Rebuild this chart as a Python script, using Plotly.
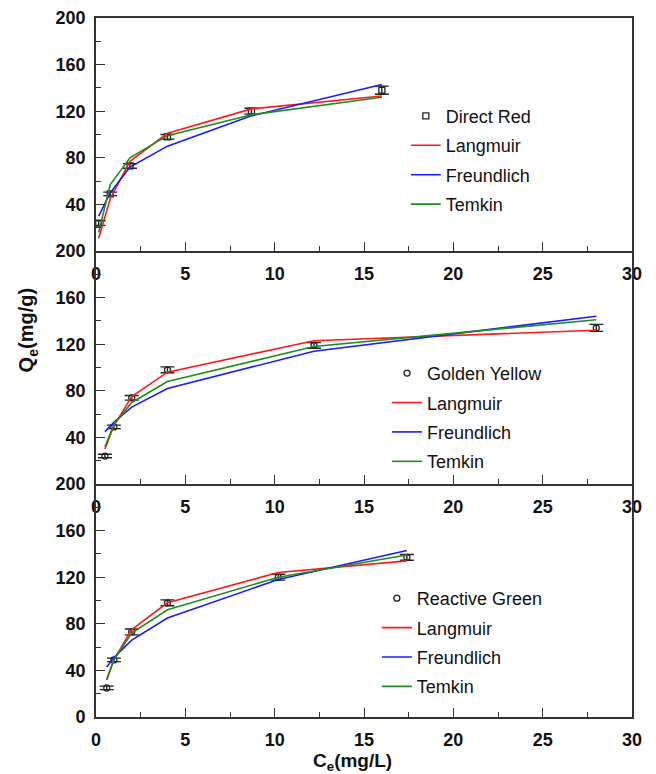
import plotly.graph_objects as go

# ---------------- data ----------------
dr_ce = [0.15, 0.8, 1.9, 4.0, 8.7, 16.0]
dr_qe = [24, 49, 73, 98, 120, 138]
dr_err = [2, 1.5, 2, 2, 2.5, 3.5]
dr_lang = [11, 45, 77, 101, 122, 133]
dr_freu = [30, 50, 72, 90, 116, 143]
dr_temk = [16, 57, 80, 99, 117, 132]

gy_ce = [0.5, 1.0, 2.0, 4.0, 12.2, 28.0]
gy_qe = [24, 49, 74, 98, 119, 134]
gy_err = [1.5, 1.5, 2, 2.5, 2.5, 3]
gy_lang = [30, 50, 75, 96, 123, 132]
gy_freu = [45, 53, 66, 82, 114, 144]
gy_temk = [32, 51, 70, 88, 118, 141]

rg_ce = [0.6, 1.0, 2.0, 4.0, 10.2, 17.4]
rg_qe = [25, 49, 73, 98, 120, 137]
rg_err = [1.5, 1.5, 2.5, 2.5, 2.5, 2.5]
rg_lang = [32, 49, 75, 98, 124, 134]
rg_freu = [43, 51, 66, 85, 118, 143]
rg_temk = [32, 49, 72, 92, 120, 139]

panels = [
    ("Direct Red", "square-open", dr_ce, dr_qe, dr_err, dr_lang, dr_freu, dr_temk),
    ("Golden Yellow", "circle-open", gy_ce, gy_qe, gy_err, gy_lang, gy_freu, gy_temk),
    ("Reactive Green", "circle-open", rg_ce, rg_qe, rg_err, rg_lang, rg_freu, rg_temk),
]
model_names = ["Langmuir", "Freundlich", "Temkin"]
model_colors = ["#FF1A1A", "#1A1AFF", "#1E8C1E"]

y_ticks_full = [0, 40, 80, 120, 160, 200]
y_ticks_upper = [40, 80, 120, 160, 200]
x_ticks = [0, 5, 10, 15, 20, 25, 30]

FONT = "Arial, Liberation Sans, sans-serif"
AXC = "#333333"

fig = go.Figure()
legend_names = ["legend", "legend2", "legend3"]
for i, (name, sym, ce, qe, err, lang, freu, temk) in enumerate(panels):
    xa = "x" if i == 0 else f"x{i+1}"
    ya = "y" if i == 0 else f"y{i+1}"
    lg = legend_names[i]
    fig.add_trace(go.Scatter(
        x=ce, y=qe, mode="markers", name=name, xaxis=xa, yaxis=ya,
        legend=lg, legendgroup=f"d{i}",
        marker=dict(symbol=sym, size=6, color="#222222", line=dict(width=1.3, color="#222222")),
        error_y=dict(type="data", array=err, visible=True, color="#222222", thickness=1.4, width=7),
    ))
    for mname, col, vals in zip(model_names, model_colors, [lang, freu, temk]):
        fig.add_trace(go.Scatter(
            x=ce, y=vals, mode="lines", name=mname, xaxis=xa, yaxis=ya,
            legend=lg, legendgroup=f"{mname}{i}",
            line=dict(color=col, width=1.6),
        ))

domains = [[2/3, 1.0], [1/3, 2/3], [0.0, 1/3]]
tickfont = dict(family=FONT, size=18, color="#111111", weight="bold")
for i in range(3):
    xk = "xaxis" if i == 0 else f"xaxis{i+1}"
    yk = "yaxis" if i == 0 else f"yaxis{i+1}"
    ya = "y" if i == 0 else f"y{i+1}"
    xa = "x" if i == 0 else f"x{i+1}"
    fig.layout[xk] = dict(
        range=[0, 30], anchor=ya, domain=[0, 1], automargin=False,
        tickmode="array", tickvals=x_ticks, ticktext=[str(v) for v in x_ticks],
        ticks="inside", ticklen=9, tickwidth=1.4, tickcolor=AXC,
        minor=dict(tickmode="linear", tick0=0, dtick=2.5, ticks="inside", ticklen=5, tickwidth=1.4, tickcolor=AXC),
        showline=True, linecolor=AXC, linewidth=1.6, mirror=(i == 0),
        showgrid=False, zeroline=False, tickfont=tickfont, ticklabelstandoff=6,
    )
    yt = y_ticks_full if i == 2 else y_ticks_upper
    fig.layout[yk] = dict(
        range=[0, 200], anchor=xa, domain=domains[i], automargin=False,
        tickmode="array", tickvals=yt, ticktext=[str(v) for v in yt],
        ticks="inside", ticklen=9, tickwidth=1.4, tickcolor=AXC,
        minor=dict(tickmode="linear", tick0=0, dtick=20, ticks="inside", ticklen=5, tickwidth=1.4, tickcolor=AXC),
        showline=True, linecolor=AXC, linewidth=1.6, mirror=True,
        showgrid=False, zeroline=False, tickfont=tickfont, ticklabelstandoff=5,
    )

legfont = dict(family=FONT, size=18, color="#111111")
leg_pos = [(0.578, 0.886), (0.543, 0.518), (0.524, 0.196)]
for lg, (lx, ly) in zip(legend_names, leg_pos):
    fig.layout[lg] = dict(
        x=lx, y=ly, xanchor="left", yanchor="top", bgcolor="rgba(0,0,0,0)",
        borderwidth=0, font=legfont, tracegroupgap=3, traceorder="grouped",
    )

fig.add_annotation(
    text="Q<sub>e</sub>(mg/g)", xref="paper", yref="paper", x=-0.127, y=0.553,
    textangle=-90, showarrow=False, font=dict(family=FONT, size=20, color="#111111", weight="bold"),
    xanchor="center", yanchor="middle",
)
fig.add_annotation(
    text="C<sub>e</sub>(mg/L)", xref="paper", yref="paper", x=0.478, y=-0.065,
    showarrow=False, font=dict(family=FONT, size=19, color="#111111", weight="bold"),
    xanchor="center", yanchor="middle",
)

# page body adds an 8px margin; size figure so plot area lands where the reference has it
fig.update_layout(
    width=640, height=766,
    margin=dict(l=88, r=16, t=10, b=57, autoexpand=False),
    paper_bgcolor="white", plot_bgcolor="white",
    showlegend=True,
)
fig.write_html("out.html")
